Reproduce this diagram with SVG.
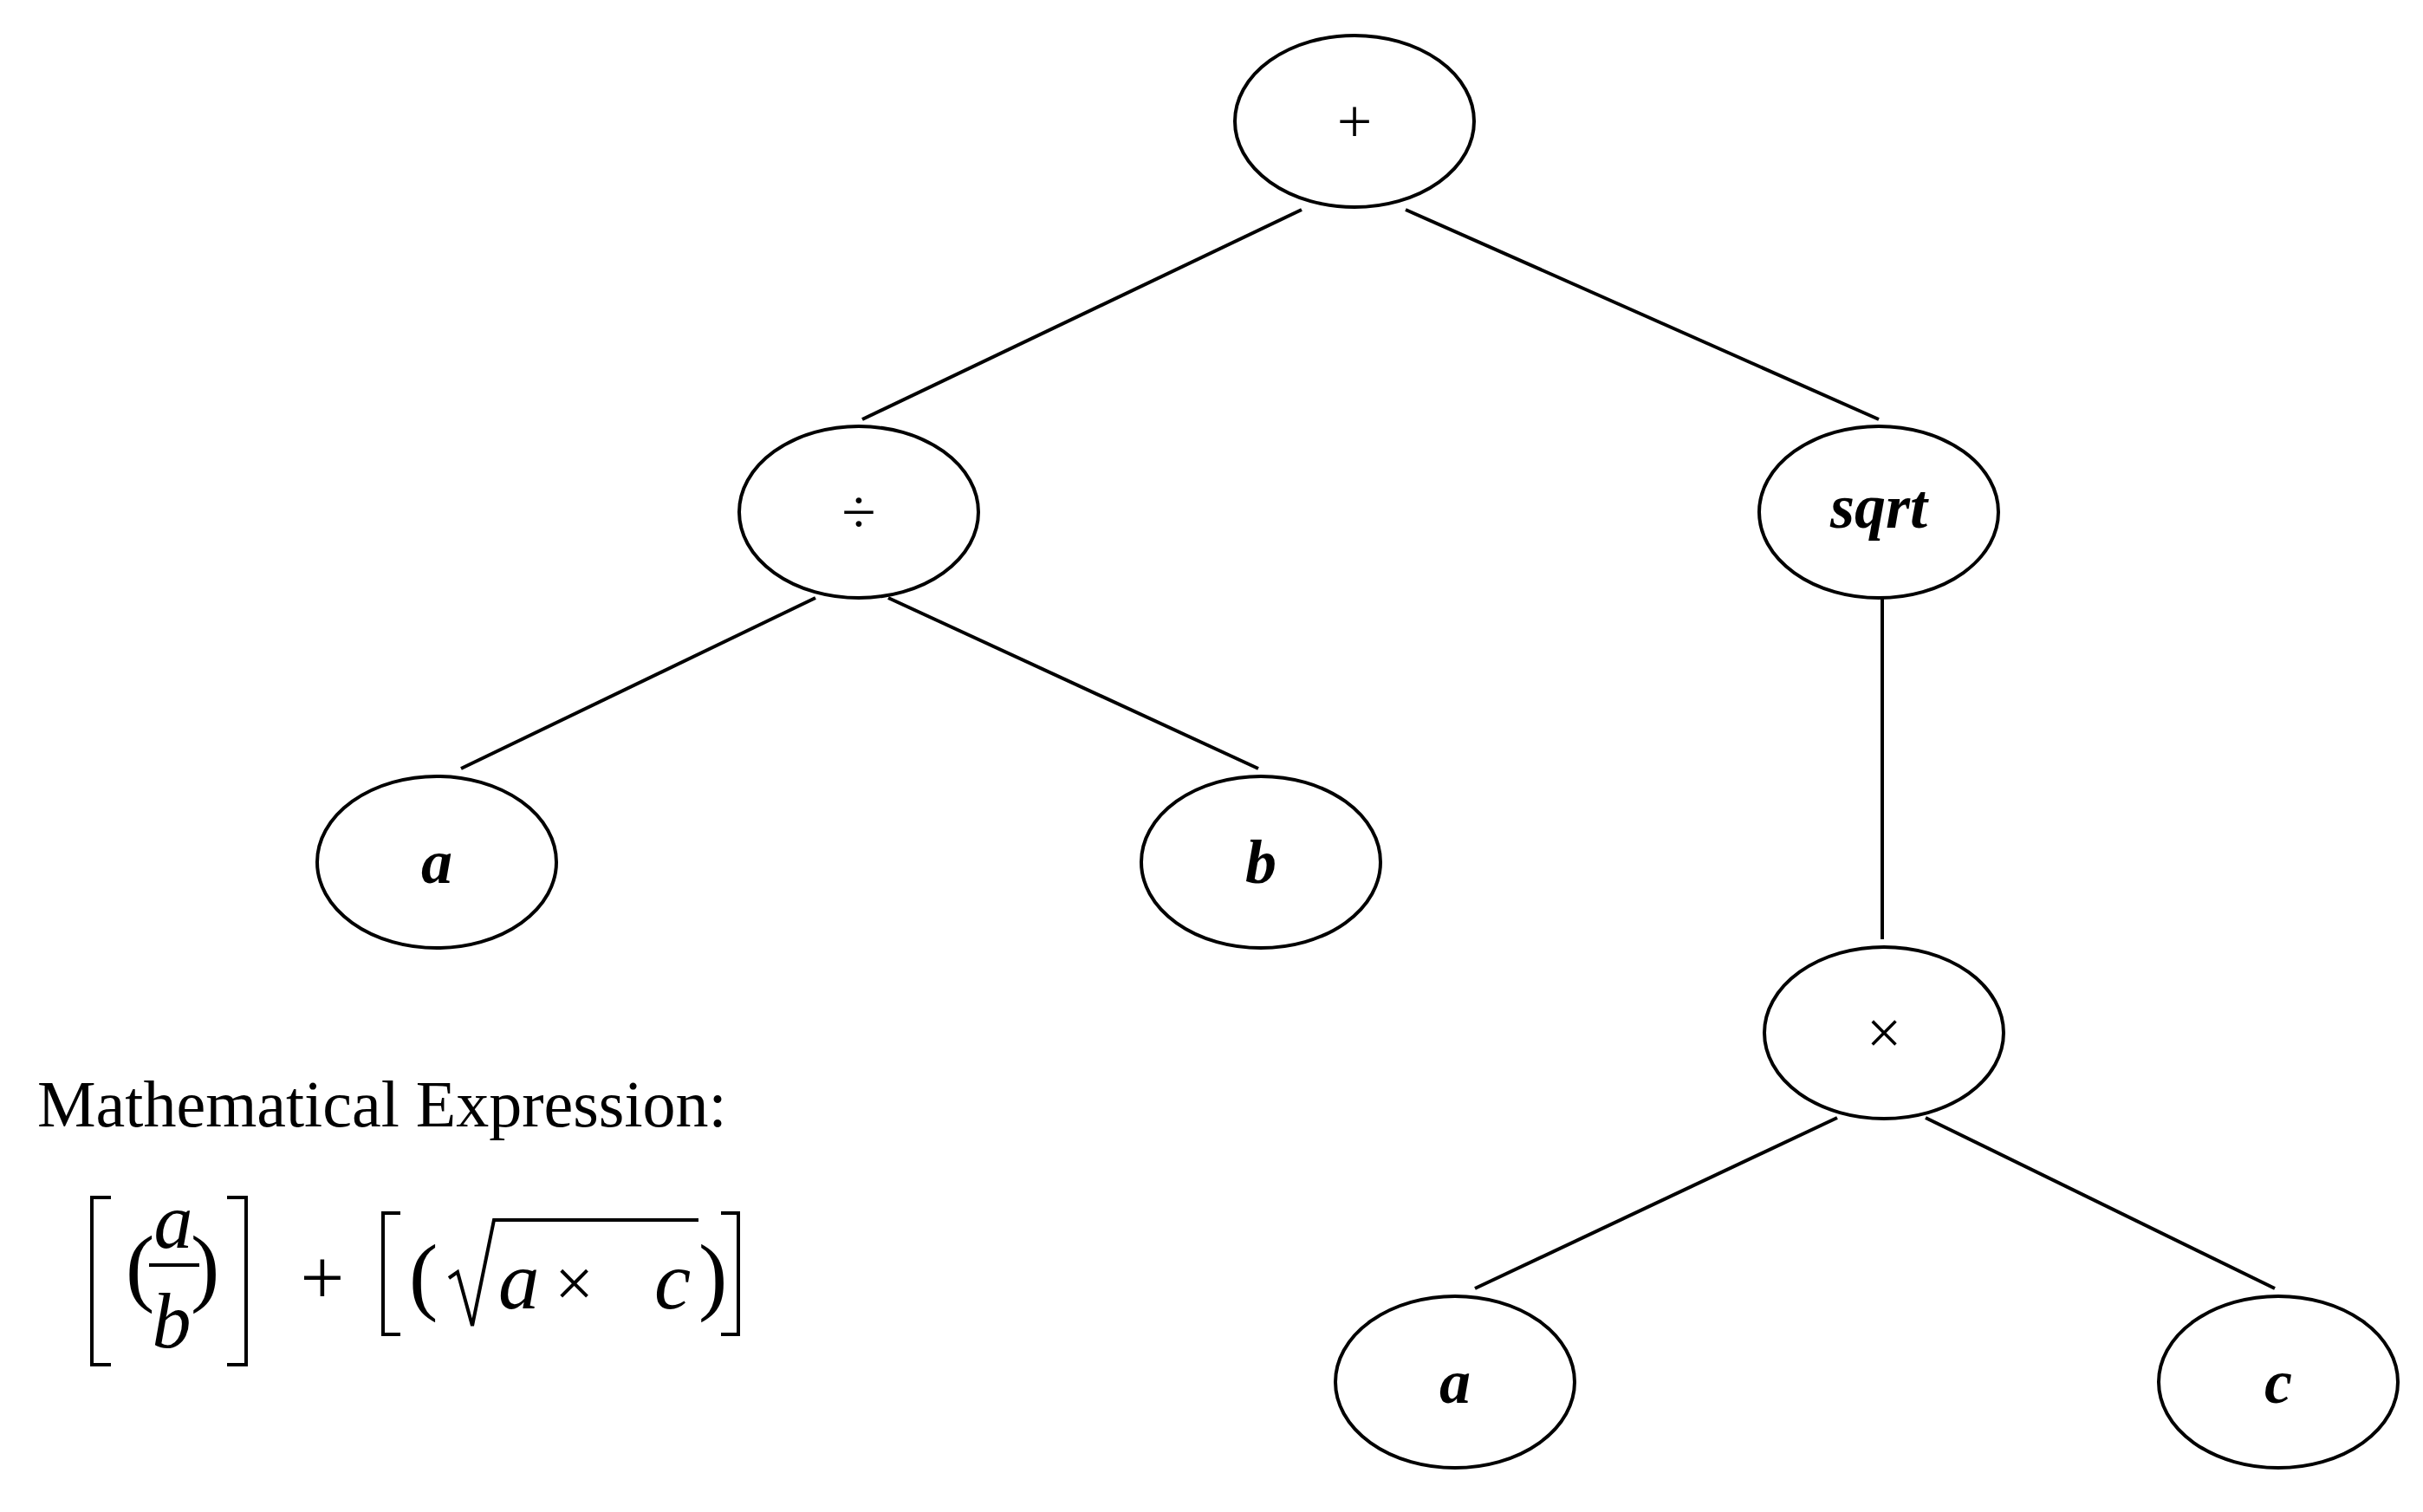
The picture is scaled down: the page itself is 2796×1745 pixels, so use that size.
<svg xmlns="http://www.w3.org/2000/svg" width="2796" height="1745" viewBox="0 0 2796 1745">
<style>
.n{fill:#fff;stroke:#000;stroke-width:4}
.e{stroke:#000;stroke-width:4;fill:none}
.t{font-family:"Liberation Serif",serif;font-size:72px;text-anchor:middle;dominant-baseline:central}
.bi{font-weight:bold;font-style:italic}
.f{font-family:"Liberation Serif",serif}
.i{font-style:italic}
</style>
<rect width="2796" height="1745" fill="#fff"/>
<g id="connectors">
<line class="e" x1="1502" y1="242" x2="995" y2="484"/>
<line class="e" x1="1622" y1="242" x2="2168" y2="484"/>
<line class="e" x1="941" y1="690" x2="532" y2="887"/>
<line class="e" x1="1025" y1="690" x2="1452" y2="887"/>
<line class="e" x1="2172" y1="690" x2="2172" y2="1084"/>
<line class="e" x1="2120" y1="1290" x2="1702" y2="1487"/>
<line class="e" x1="2222" y1="1290" x2="2625" y2="1487"/>
</g>
<g id="plus"><ellipse class="n" cx="1563" cy="140" rx="138" ry="99"/><text class="t" x="1563" y="140" font-size="90">+</text></g>
<g id="div"><ellipse class="n" cx="991" cy="591" rx="138" ry="99"/><text class="t" x="991" y="591">÷</text></g>
<g id="sqrt"><ellipse class="n" cx="2168" cy="591" rx="138" ry="99"/><text class="t bi" x="2168" y="585">sqrt</text></g>
<g id="a1"><ellipse class="n" cx="504" cy="995" rx="138" ry="99"/><text class="t bi" x="504" y="995">a</text></g>
<g id="b"><ellipse class="n" cx="1455" cy="995" rx="138" ry="99"/><text class="t bi" x="1455" y="995">b</text></g>
<g id="times"><ellipse class="n" cx="2174" cy="1192" rx="138" ry="99"/><text class="t" x="2174" y="1192">×</text></g>
<g id="a2"><ellipse class="n" cx="1679" cy="1595" rx="138" ry="99"/><text class="t bi" x="1679" y="1595">a</text></g>
<g id="c"><ellipse class="n" cx="2629" cy="1595" rx="138" ry="99"/><text class="t bi" x="2629" y="1595">c</text></g>
<g id="expression">
<text class="f" x="43" y="1300" font-size="76">Mathematical Expression:</text>
<path class="e" d="M128 1382 H106 V1575 H128 M262 1382 H284 V1575 H262" stroke-width="5"/>
<text class="f i" x="200" y="1440" font-size="90" text-anchor="middle">a</text>
<line class="e" x1="172" y1="1460" x2="230" y2="1460" stroke-width="5"/>
<text class="f i" x="198" y="1555" font-size="90" text-anchor="middle">b</text>
<text class="f" x="145" y="1495" font-size="100">(</text>
<text class="f" x="220" y="1495" font-size="100">)</text>
<text class="f" x="372" y="1505" font-size="90" text-anchor="middle">+</text>
<path class="e" d="M462 1400 H442 V1540 H462 M832 1400 H852 V1540 H832" stroke-width="5"/>
<text class="f" x="472" y="1505" font-size="100">(</text>
<path class="e" d="M518 1475 L528 1468 L545 1530 L570 1408 H806" stroke-width="4"/>
<text class="f i" x="575" y="1510" font-size="95">a</text>
<text class="f" x="640" y="1508" font-size="80">×</text>
<text class="f i" x="755" y="1510" font-size="95">c</text>
<text class="f" x="806" y="1505" font-size="100">)</text>
</g>
</svg>
